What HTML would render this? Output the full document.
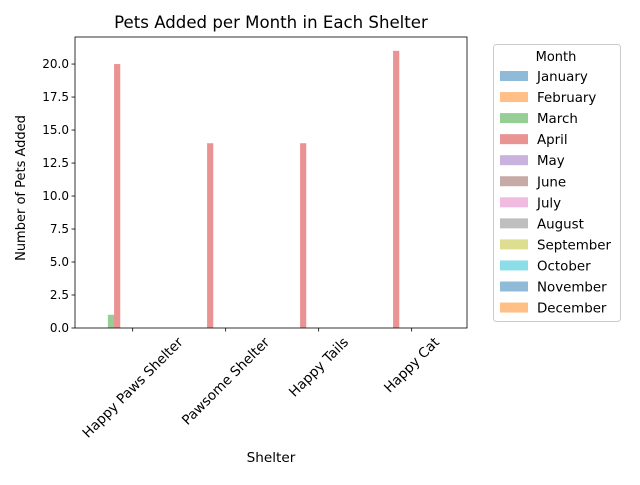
<!DOCTYPE html>
<html><head><meta charset="utf-8"><style>
body{margin:0;background:#fff;font-family:"Liberation Sans","DejaVu Sans",sans-serif}
svg text{font-family:"DejaVu Sans","Liberation Sans",sans-serif;fill:#000}
</style></head><body>
<svg id="c" width="640" height="480" viewBox="0 0 640 480" xmlns="http://www.w3.org/2000/svg"></svg>
<script>
const categories=["Happy Paws Shelter","Pawsome Shelter","Happy Tails","Happy Cat"];
const months=["January","February","March","April","May","June","July","August","September","October","November","December"];
const colors=["#1f77b4","#ff7f0e","#2ca02c","#d62728","#9467bd","#8c564b","#e377c2","#7f7f7f","#bcbd22","#17becf","#1f77b4","#ff7f0e"];
const values=[
 [0,0,0,0],[0,0,0,0],[1,0,0,0],[20,14,14,21],[0,0,0,0],[0,0,0,0],
 [0,0,0,0],[0,0,0,0],[0,0,0,0],[0,0,0,0],[0,0,0,0],[0,0,0,0]];
const yTicks=[0,2.5,5,7.5,10,12.5,15,17.5,20];
const yTickLabels=["0.0","2.5","5.0","7.5","10.0","12.5","15.0","17.5","20.0"];
const svg=document.getElementById('c');const NS="http://www.w3.org/2000/svg";
const L=75,R=467,T=37,B=328;
const yMax=22.05,xMin=-0.62,xMax=3.595;
const y=v=>B-(v/yMax)*(B-T);
const x=v=>L+(v-xMin)/(xMax-xMin)*(R-L);
function mk(t,a,p){const e=document.createElementNS(NS,t);for(const k in a)e.setAttribute(k,a[k]);(p||svg).appendChild(e);return e;}
let t=mk('text',{x:271,y:28,'font-size':16.6,'text-anchor':'middle'});


t.textContent="Pets Added per Month in Each Shelter";
const bw=0.8/12;
months.forEach((m,i)=>{values[i].forEach((v,c)=>{
 const x0=x(c-0.4+i*bw),x1=x(c-0.4+(i+1)*bw);
 const r=mk('rect',{x:x0,y:y(v),width:x1-x0,height:B-y(v),fill:colors[i],'fill-opacity':0.5});
 
 
});});
mk('rect',{x:L,y:T,width:R-L,height:B-T,fill:'none',stroke:'#000','stroke-width':0.8});
yTicks.forEach((v,i)=>{
 mk('line',{x1:L-3.5,x2:L,y1:y(v),y2:y(v),stroke:'#000','stroke-width':0.8});
 const l=mk('text',{x:L-6,y:y(v)+4,'font-size':12,'text-anchor':'end'});
 
 
 l.textContent=yTickLabels[i];
});
categories.forEach((c,i)=>{
 const cx=x(i);
 mk('line',{x1:cx,x2:cx,y1:B,y2:B+3.5,stroke:'#000','stroke-width':0.8});
 const l=mk('text',{x:cx,y:B,'font-size':13.6,'text-anchor':'middle'});
 
 
 l.textContent=c;
 const w=l.getComputedTextLength(),h=13.6;
 const cy=B+7+(w+h)*0.7071/2;
 l.setAttribute('y',cy+4.5);
 l.setAttribute('transform',`rotate(-45 ${cx} ${cy})`);
});
t=mk('text',{x:271,y:462,'font-size':13.6,'text-anchor':'middle'});


t.textContent="Shelter";
t=mk('text',{x:25,y:188,'font-size':13,'text-anchor':'middle',transform:'rotate(-90 25 188)'});


t.textContent="Number of Pets Added";
const lg=mk('g',{});


mk('rect',{x:493.5,y:44.5,width:127,height:277,rx:3,fill:'#fff',stroke:'#ccc'},lg);
t=mk('text',{x:556,y:61,'font-size':13,'text-anchor':'middle'},lg);t.textContent="Month";
months.forEach((m,i)=>{
 const yy=71+i*21.05;
 const g=mk('g',{},lg);
 
 
 mk('rect',{x:500,y:yy,width:28,height:10,fill:colors[i],'fill-opacity':0.5},g);
 const l=mk('text',{x:537,y:yy+10,'font-size':13.4},g);l.textContent=m;
});
</script>
</body></html>
